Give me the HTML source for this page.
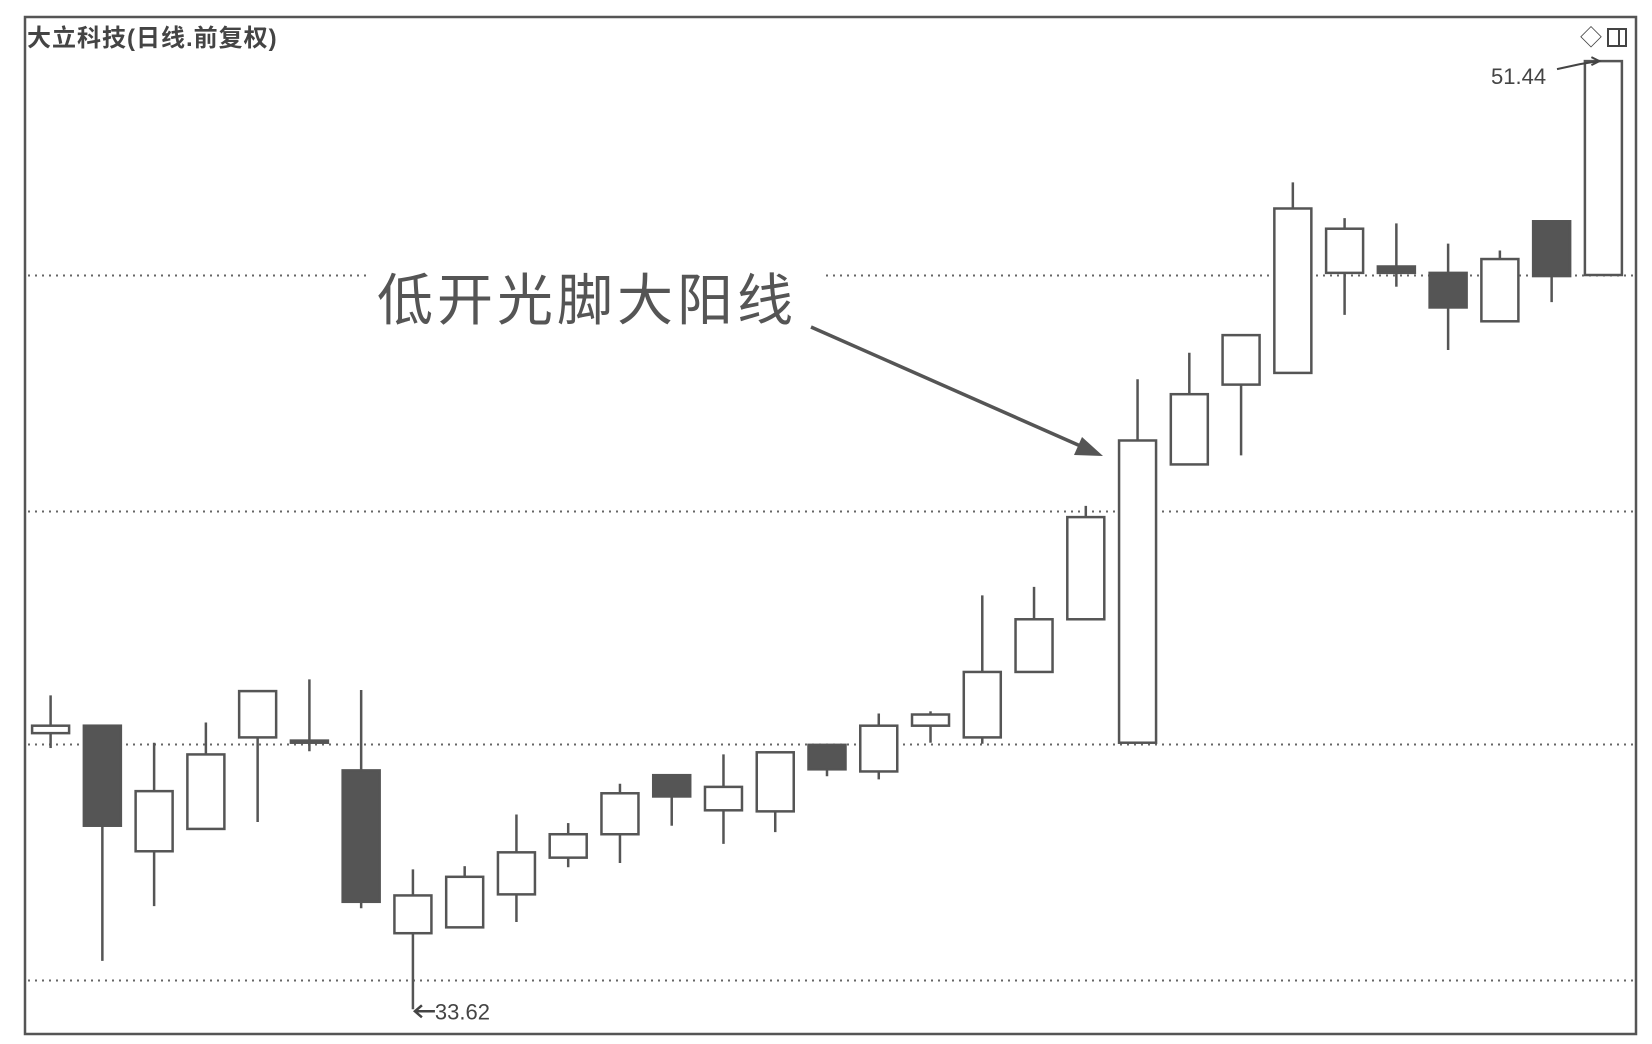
<!DOCTYPE html>
<html><head><meta charset="utf-8"><style>
html,body{margin:0;padding:0;background:#fff;}
svg{display:block;font-family:"Liberation Sans","Noto Sans CJK SC",sans-serif;}
</style></head><body>
<svg id="chart" width="1652" height="1044" viewBox="0 0 1652 1044" xmlns="http://www.w3.org/2000/svg">
<rect x="0" y="0" width="1652" height="1044" fill="#fff"/>
<g id="grid"></g>
<rect x="368" y="262" width="456" height="70" fill="#fff"/>
<g id="candles"></g>
<rect x="25" y="17" width="1611" height="1017" fill="none" stroke="#555" stroke-width="2.5"/>
<text x="27" y="46" font-size="24" font-weight="bold" fill="#444" letter-spacing="1">大立科技(日线.前复权)</text>
<text x="1580" y="45" font-size="22" fill="#444">◇</text>
<rect x="1608" y="29" width="18" height="17" fill="none" stroke="#444" stroke-width="2"/>
<line x1="1619" y1="29" x2="1619" y2="46" stroke="#444" stroke-width="2"/>
<text x="377" y="320" font-size="56" fill="#555" letter-spacing="4">低开光脚大阳线</text>
<line x1="811" y1="327" x2="1085" y2="448" stroke="#555" stroke-width="3.5"/>
<polygon points="1103,456 1074,455 1082,437" fill="#555"/>
<text id="hiLabel" x="1491" y="84" font-size="22" fill="#444">51.44</text>
<text id="loLabel" x="434" y="1020" font-size="22" fill="#444">33.62</text>
</svg>
<script>
const opens  = [38.81,38.95,36.59,37.01,38.73,38.67,38.11,35.05,35.16,35.78,36.47,36.91,38.02,37.36,37.34,38.59,38.09,38.95,38.73,39.96,40.95,38.63,43.86,45.36,45.58,47.46,47.58,47.46,46.55,48.43,47.42];
const highs  = [39.52,38.95,38.63,39.01,39.60,39.82,39.62,36.25,36.31,37.28,37.12,37.86,38.02,38.41,38.45,38.59,39.18,39.22,41.40,41.56,43.08,45.46,45.96,46.29,49.16,48.49,48.39,48.01,47.88,48.43,51.44];
const lows   = [38.53,34.53,35.56,37.01,37.14,38.47,35.52,33.62,35.16,35.26,36.29,36.37,37.07,36.73,36.95,38.00,37.94,38.63,38.61,39.96,40.95,38.63,43.86,44.03,45.58,46.67,47.20,46.01,46.55,46.91,47.42];
const closes = [38.95,37.07,37.72,38.41,39.60,38.63,35.64,35.76,36.11,36.57,36.91,37.68,37.62,37.80,38.45,38.13,38.95,39.16,39.96,40.95,42.87,44.31,45.18,46.29,48.67,48.29,47.46,46.81,47.72,47.40,51.44];
const gridPrices = [47.42,42.98,38.61,34.17];

const NS="http://www.w3.org/2000/svg";
const yOf = p => 61.1 + (51.44 - p) * 53.21;
const xOf = i => 50.6 + i * 51.76;
const BW = 37;

const grid=document.getElementById('grid');
gridPrices.forEach(p=>{
  const l=document.createElementNS(NS,'line');
  
  
  const y=Math.round(yOf(p))+0.5;
  l.setAttribute('x1',28);l.setAttribute('x2',1634);
  l.setAttribute('y1',y);l.setAttribute('y2',y);
  l.setAttribute('stroke','#666');l.setAttribute('stroke-width','2');
  l.setAttribute('stroke-dasharray','2 5');
  grid.appendChild(l);
});

const cg=document.getElementById('candles');
opens.forEach((o,i)=>{
  const c=closes[i],h=highs[i],lo=lows[i];
  const x=xOf(i);
  const up=c>o;
  const g=document.createElementNS(NS,'g');
  
  
  const w=document.createElementNS(NS,'line');
  
  
  w.setAttribute('x1',x);w.setAttribute('x2',x);
  w.setAttribute('y1',yOf(h));w.setAttribute('y2',yOf(lo));
  w.setAttribute('stroke','#555');w.setAttribute('stroke-width','2.5');
  g.appendChild(w);
  const top=yOf(Math.max(o,c)),bot=yOf(Math.min(o,c));
  const r=document.createElementNS(NS,'rect');
  
  
  r.setAttribute('x',x-BW/2);r.setAttribute('y',top);
  r.setAttribute('width',BW);r.setAttribute('height',Math.max(bot-top,2));
  r.setAttribute('fill',up?'#fff':'#555');
  r.setAttribute('stroke','#555');r.setAttribute('stroke-width','2.5');
  g.appendChild(r);
  cg.appendChild(g);
});

const hiI=highs.indexOf(Math.max(...highs)), loI=lows.indexOf(Math.min(...lows));
const hl=document.getElementById('hiLabel');
hl.setAttribute('y',yOf(highs[hiI])+23);
const hp=document.createElementNS(NS,'path');


const hy=yOf(highs[hiI]);
hp.setAttribute('d',`M1557 ${hy+8} L1580 ${hy+3} L${xOf(hiI)-5} ${hy} M${xOf(hiI)-12} ${hy-4} L${xOf(hiI)-4} ${hy} L${xOf(hiI)-12} ${hy+4}`);
hp.setAttribute('stroke','#444');hp.setAttribute('stroke-width','2');hp.setAttribute('fill','none');
document.getElementById('chart').appendChild(hp);
const ly=yOf(lows[loI]);
const lx=xOf(loI);
const ll=document.getElementById('loLabel');
ll.setAttribute('x',lx+22);
ll.setAttribute('y',ly+10);
const lp=document.createElementNS(NS,'path');


lp.setAttribute('d',`M${lx+22} ${ly+2} L${lx+2} ${ly+2} M${lx+9} ${ly-4} L${lx+2} ${ly+2} L${lx+9} ${ly+8}`);
lp.setAttribute('stroke','#444');lp.setAttribute('stroke-width','2.5');lp.setAttribute('fill','none');
document.getElementById('chart').appendChild(lp);
</script>
</body></html>
